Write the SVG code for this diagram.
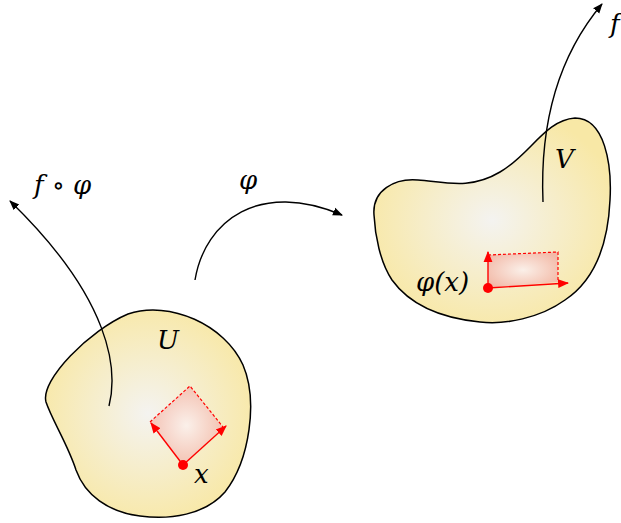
<svg xmlns="http://www.w3.org/2000/svg" width="621" height="523" viewBox="0 0 621 523">
<style>
.blob{stroke:#000;stroke-width:1.5;}
.conn{fill:none;stroke:#000;stroke-width:1.4;}
.red{fill:none;stroke:#f00;stroke-width:1.4;}
.dash{fill:none;stroke:#f00;stroke-width:1.2;stroke-dasharray:3 2;}
.lbl{font-family:"DejaVu Serif","Liberation Serif",serif;font-style:italic;font-size:26px;fill:#000;}
</style>
<defs>
<radialGradient id="gy" cx="0.5" cy="0.5" r="0.55">
<stop offset="0" stop-color="#f4f3f0"/>
<stop offset="1" stop-color="#f8e8a6"/>
</radialGradient>
<radialGradient id="gr" cx="0.5" cy="0.5" r="0.6">
<stop offset="0" stop-color="#fbf0ec"/>
<stop offset="1" stop-color="#f2b4a4"/>
</radialGradient>
<marker id="ab" viewBox="0 0 10 10" refX="9" refY="5" markerWidth="10" markerHeight="10" markerUnits="userSpaceOnUse" orient="auto">
<path d="M0,1 L10,5 L0,9 z" fill="#000"/>
</marker>
<marker id="ar" viewBox="0 0 10 10" refX="9" refY="5" markerWidth="11" markerHeight="11" markerUnits="userSpaceOnUse" orient="auto">
<path d="M0,1 L10,5 L0,9 z" fill="#f00"/>
</marker>
</defs>
<g id="U">
<path class="blob" fill="url(#gy)" d="M46,402 C40,380 90,330 128,314 C170,300 225,325 243,365 C258,400 250,460 225,492 C205,515 170,520 140,516 C108,512 85,495 76,470 C68,445 52,420 46,402 Z"/>
<text class="lbl" x="157" y="349">U</text>
</g>
<g id="U-frame">
<polygon points="183,465 150,422 190,386 223,427" fill="url(#gr)" opacity="0.9"/>
<polyline class="dash" points="150,422 190,386 223,427"/>
<line class="red" x1="183" y1="465" x2="151" y2="423" marker-end="url(#ar)"/>
<line class="red" x1="183" y1="465" x2="226" y2="426" marker-end="url(#ar)"/>
<circle cx="183" cy="465" r="5" fill="#f00"/>
<text class="lbl" x="194" y="483">x</text>
</g>
<g id="V">
<path class="blob" fill="url(#gy)" d="M374,215 C372,190 395,178 418,180 C445,182 470,190 500,172 C530,155 545,120 575,118 C605,118 612,165 610,200 C608,245 595,280 565,300 C540,318 505,325 480,322 C440,318 410,305 392,280 C380,262 375,235 374,215 Z"/>
<text class="lbl" x="555" y="168">V</text>
</g>
<g id="V-frame">
<polygon points="488,288 488,255 558,252 558,282" fill="url(#gr)" opacity="0.9"/>
<polyline class="dash" points="488,255 558,252 558,282"/>
<line class="red" x1="488" y1="288" x2="488" y2="252" marker-end="url(#ar)"/>
<line class="red" x1="488" y1="288" x2="568" y2="283" marker-end="url(#ar)"/>
<circle cx="488" cy="288" r="5" fill="#f00"/>
<text class="lbl" x="416" y="291">φ(x)</text>
</g>
<g id="connectors">
<path class="conn" d="M109,406 C118,370 112,300 10,201" marker-end="url(#ab)"/>
<path class="conn" d="M195,280 C205,220 260,180 342,215" marker-end="url(#ab)"/>
<path class="conn" d="M543,202 C540,130 555,60 602,4" marker-end="url(#ab)"/>
</g>
<g id="labels">
<text class="lbl" x="34" y="194">f ∘ φ</text>
<text class="lbl" x="239" y="189">φ</text>
<text class="lbl" x="610" y="33">f</text>
</g>
</svg>
